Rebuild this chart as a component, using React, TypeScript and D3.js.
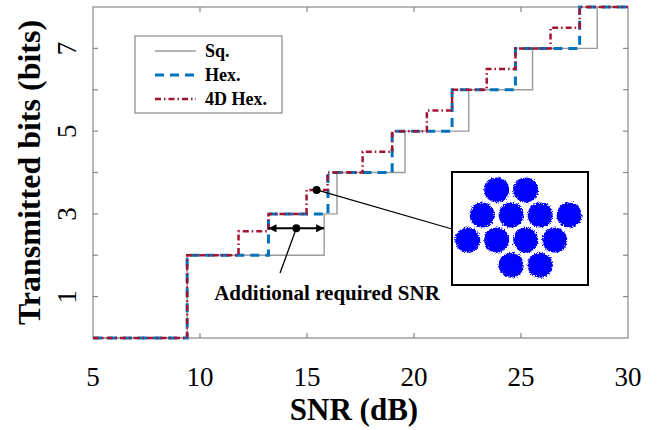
import React from "react";
import * as d3 from "d3";

// SNR (dB) at which each scheme steps up, and the bits reached from there on
const sqSnr = [5, 9.4, 15.8, 16.4, 19.58, 22.56, 25.54, 28.56, 30];
const sqBits = [0, 2, 3, 4, 5, 6, 7, 8, 8];
const hexSnr = [5, 9.4, 13.2, 15.98, 18.98, 21.78, 24.74, 27.74, 30];
const hexBits = [0, 2, 3, 4, 5, 6, 7, 8, 8];
const hex4dSnr = [5, 9.4, 11.8, 13.2, 14.98, 15.96, 17.6, 18.98, 20.6, 21.78, 23.4, 24.74, 26.38, 27.74, 30];
const hex4dBits = [0, 2, 2.58, 3, 3.58, 4, 4.5, 5, 5.5, 6, 6.5, 7, 7.5, 8, 8];

const xTicks = [5, 10, 15, 20, 25, 30];
const yTicks = [1, 2, 3, 4, 5, 6, 7];
const yLabels = [1, 3, 5, 7];

// hexagonal constellation shown in the inset (I, Q)
const constI = [1, 2, 0.5, 1.5, 2.5, 3.5, 0, 1, 2, 3, 1.5, 2.5];
const constQ = [1.732, 1.732, 0.866, 0.866, 0.866, 0.866, 0, 0, 0, 0, -0.866, -0.866];

const W = 661, H = 430;
const margin = { top: 7, right: 33, bottom: 92, left: 93 };
const serif = "'Liberation Serif', 'Times New Roman', serif";

export default function App() {
  const x = d3.scaleLinear().domain([5, 30]).range([margin.left, W - margin.right]);
  const y = d3.scaleLinear().domain([0, 8]).range([H - margin.bottom, margin.top]);

  const stepLine = (xs: number[], ys: number[]) =>
    d3.line<number>()
      .x((d, i) => x(xs[i]))
      .y((d) => y(d))
      .curve(d3.curveStepAfter)(ys) || "";

  const series = [
    { name: "Sq.", d: stepLine(sqSnr, sqBits), color: "#9a9a9a", width: 1.4, dash: "" },
    { name: "Hex.", d: stepLine(hexSnr, hexBits), color: "#0072BD", width: 3, dash: "9,6" },
    { name: "4D Hex.", d: stepLine(hex4dSnr, hex4dBits), color: "#A2142F", width: 2.5, dash: "6,3,1.5,3" },
  ];

  // inset scales
  const xi = d3.scaleLinear().domain([-0.54, 4.15]).range([452, 588]);
  const yi = d3.scaleLinear().domain([-1.55, 2.35]).range([285, 172]);

  const [x0, x1] = [margin.left, W - margin.right];
  const [y0, y1] = [H - margin.bottom, margin.top];

  // annotation anchors
  const arrowY = y(2.65);
  const midDot = { x: x((hexSnr[2] + sqSnr[2]) / 2), y: arrowY };
  const redDot = { x: x(15.45), y: y(hex4dBits[4]) };

  return (
    <svg width={W} height={H} style={{ position: "absolute", left: 0, top: 0, background: "#fff" }}
      fontFamily={serif}>
      <defs>
        <filter id="fuzz" x="-30%" y="-30%" width="160%" height="160%">
          <feTurbulence type="fractalNoise" baseFrequency="0.9" numOctaves="2" seed="4" result="n" />
          <feDisplacementMap in="SourceGraphic" in2="n" scale="5" xChannelSelector="R" yChannelSelector="G" />
        </filter>
        <marker id="arr" viewBox="0 0 10 10" refX="10" refY="5" markerWidth="9" markerHeight="8"
          markerUnits="userSpaceOnUse" orient="auto-start-reverse">
          <path d="M0,0 L10,5 L0,10 z" fill="#000" />
        </marker>
      </defs>

      {/* axes box */}
      <rect x={x0} y={y1} width={x1 - x0} height={y0 - y1} fill="none" stroke="#888" strokeWidth={1.2} />
      {xTicks.slice(1, -1).map((t) => (
        <g key={"xt" + t} stroke="#888" strokeWidth={1.2}>
          <line x1={x(t)} x2={x(t)} y1={y0} y2={y0 - 5} />
          <line x1={x(t)} x2={x(t)} y1={y1} y2={y1 + 5} />
        </g>
      ))}
      {yTicks.map((t) => (
        <g key={"yt" + t} stroke="#888" strokeWidth={1.2}>
          <line x1={x0} x2={x0 + 5} y1={y(t)} y2={y(t)} />
          <line x1={x1} x2={x1 - 5} y1={y(t)} y2={y(t)} />
        </g>
      ))}
      {xTicks.map((t) => (
        <text key={"xl" + t} x={x(t)} y={386} textAnchor="middle" fontSize={27}>{t}</text>
      ))}
      {yLabels.map((t) => (
        <text key={"yl" + t} transform={`translate(76,${y(t)}) rotate(-90)`} textAnchor="middle" fontSize={27}>{t}</text>
      ))}
      <text x={354} y={420} textAnchor="middle" fontSize={31} fontWeight="bold">SNR (dB)</text>
      <text transform={`translate(40,${(y0 + y1) / 2}) rotate(-90)`} textAnchor="middle" fontSize={32} fontWeight="bold">
        Transmitted bits (bits)
      </text>

      {/* curves */}
      {series.map((s) => (
        <path key={s.name} d={s.d} fill="none" stroke={s.color} strokeWidth={s.width} strokeDasharray={s.dash} />
      ))}

      {/* legend */}
      <rect x={135} y={36} width={147} height={77} fill="#fff" stroke="#888" strokeWidth={1.2} />
      {series.map((s, i) => (
        <g key={"lg" + s.name} transform={`translate(0,${51 + i * 24})`}>
          <line x1={155} x2={196} y1={0} y2={0} stroke={s.color} strokeWidth={s.width} strokeDasharray={s.dash} />
          <text x={205} y={6} fontSize={18} fontWeight="bold">{s.name}</text>
        </g>
      ))}

      {/* annotation: extra SNR needed */}
      <line x1={x(hexSnr[2])} x2={x(sqSnr[2])} y1={arrowY} y2={arrowY} stroke="#000" strokeWidth={2}
        markerStart="url(#arr)" markerEnd="url(#arr)" />
      <circle cx={midDot.x} cy={midDot.y} r={4} fill="#000" />
      <line x1={midDot.x} y1={midDot.y} x2={x(13.74)} y2={y(1.57)} stroke="#000" strokeWidth={1.3} />
      <text x={327} y={300} textAnchor="middle" fontSize={21} fontWeight="bold">Additional required SNR</text>

      <circle cx={redDot.x} cy={redDot.y} r={4} fill="#000" />
      <line x1={redDot.x} y1={redDot.y} x2={452} y2={229} stroke="#000" strokeWidth={1.3} />

      {/* inset constellation */}
      <rect x={452} y={172} width={136} height={113} fill="#fff" stroke="#000" strokeWidth={2} />
      <g filter="url(#fuzz)">
        {constI.map((v, i) => (
          <circle key={"c" + i} cx={xi(v)} cy={yi(constQ[i])} r={12.5} fill="#0000ff" />
        ))}
      </g>
    </svg>
  );
}
